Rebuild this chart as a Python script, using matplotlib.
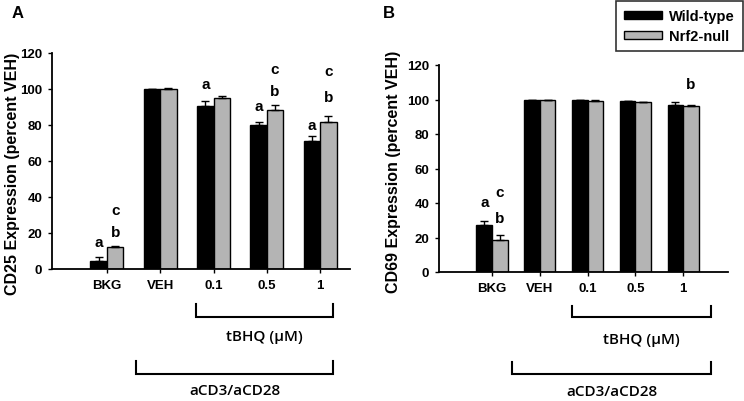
import matplotlib
matplotlib.use("Agg")
import matplotlib.pyplot as plt
from matplotlib.patches import Patch
import numpy as np

plt.rcParams['font.family'] = ['Liberation Sans', 'DejaVu Sans']

categories = ["BKG", "VEH", "0.1", "0.5", "1"]
series = ["Wild-type", "Nrf2-null"]

# Panel A: CD25
cd25_wt = [4.6, 100.0, 90.5, 80.0, 71.0]
cd25_wt_err = [1.8, 0.0, 3.0, 1.5, 3.0]
cd25_null = [12.0, 100.0, 95.0, 88.5, 81.5]
cd25_null_err = [0.6, 0.6, 1.3, 2.8, 3.6]

# Panel B: CD69
cd69_wt = [27.3, 100.0, 100.0, 99.3, 97.0]
cd69_wt_err = [2.0, 0.0, 0.0, 0.0, 1.5]
cd69_null = [18.8, 100.0, 99.3, 98.5, 96.0]
cd69_null_err = [2.5, 0.0, 0.5, 0.0, 0.7]

# significance letters: (category index, series index, letter, y value)
cd25_letters = [(0, 0, "a", 14.8), (0, 1, "b", 20.4), (0, 1, "c", 33.0),
                (2, 0, "a", 102.8),
                (3, 0, "a", 90.7), (3, 1, "b", 99.0), (3, 1, "c", 111.0),
                (4, 0, "a", 80.0), (4, 1, "b", 95.4), (4, 1, "c", 110.0)]
cd69_letters = [(0, 0, "a", 40.6), (0, 1, "b", 31.2), (0, 1, "c", 46.4),
                (4, 1, "b", 109.0)]

colors = ["#000000", "#b4b4b4"]

fig = plt.figure(figsize=(7.44, 4.02), dpi=100)
W, H = 744, 402


def make_axes(l, r, b, t):
    return fig.add_axes([l / W, 1 - b / H, (r - l) / W, (b - t) / H])


axA = make_axes(52, 350, 270, 54)
axB = make_axes(439, 728, 273, 66)


def draw(ax, wt, wterr, nl, nlerr, letters, width, xlim, ylabel, labcoords, brackets):
    x = np.arange(len(categories))
    off = width / 2
    for vals, errs, c, sgn in [(wt, wterr, colors[0], -1), (nl, nlerr, colors[1], 1)]:
        xs = x + sgn * off
        ax.bar(xs, vals, width=width, color=c, edgecolor="black", linewidth=1.0, zorder=2)
        ax.errorbar(xs, vals, yerr=[np.zeros(len(vals)), errs], fmt="none",
                    ecolor="black", elinewidth=1.0, capsize=3, capthick=1.0, zorder=3)
    for ci, si, letter, yv in letters:
        xs = ci + (-off if si == 0 else off)
        ax.text(xs, yv, letter, ha="center", va="center", fontsize=11, fontweight="bold")
    ax.set_xlim(*xlim)
    ax.set_ylim(0, 120)
    ax.set_yticks(np.arange(0, 121, 20))
    ax.set_xticks(x)
    ax.set_xticklabels(categories)
    for s in ["top", "right"]:
        ax.spines[s].set_visible(False)
    for s in ["left", "bottom"]:
        ax.spines[s].set_linewidth(1.3)
    ax.tick_params(axis="both", direction="out", length=3, width=1.0, labelsize=9.5, pad=4)
    for lab in ax.get_xticklabels() + ax.get_yticklabels():
        lab.set_fontweight("bold")
    ax.set_ylabel(ylabel, fontsize=11.5)
    ax.yaxis.label.set_fontweight("bold")
    ax.yaxis.set_label_coords(*labcoords)
    ax.yaxis.label.set_va("center")
    # brackets below axis (data coords, unclipped)
    for x0, x1, ytop, ybot, label, ytext in brackets:
        ax.plot([x0, x0, x1, x1], [ytop, ybot, ybot, ytop], color="black", lw=1.5,
                clip_on=False, solid_joinstyle="miter")
        ax.text((x0 + x1) / 2, ytext, label, ha="center", va="center",
                fontsize=11, family=["Open Sans", "DejaVu Sans"], fontweight="semibold")


draw(axA, cd25_wt, cd25_wt_err, cd25_null, cd25_null_err, cd25_letters, 0.31,
     (-1.03, 4.56), "CD25 Expression (percent VEH)", (-0.131, 0.444),
     [(1.67, 4.24, -19.4, -26.7, "tBHQ (µM)", -37.5),
      (0.545, 4.24, -51.0, -58.3, "aCD3/aCD28", -67.0)])
draw(axB, cd69_wt, cd69_wt_err, cd69_null, cd69_null_err, cd69_letters, 0.325,
     (-1.11, 4.94), "CD69 Expression (percent VEH)", (-0.159, 0.488),
     [(1.675, 4.59, -19.7, -26.1, "tBHQ (µM)", -39.0),
      (0.42, 4.59, -52.2, -59.1, "aCD3/aCD28", -69.0)])

fig.text(12 / W, 1 - 13 / H, "A", fontsize=12, fontweight="bold", ha="left", va="center")
fig.text(383 / W, 1 - 13 / H, "B", fontsize=12, fontweight="bold", ha="left", va="center")

handles = [Patch(facecolor=colors[0], edgecolor="black"),
           Patch(facecolor=colors[1], edgecolor="black")]
leg = fig.legend(handles, series, loc="upper right", bbox_to_anchor=(743 / W, 1 - 2 / H),
                 frameon=True, fancybox=False, edgecolor="black", handlelength=2.6,
                 handleheight=0.45, prop={"weight": "bold", "size": 10.5},
                 borderpad=0.55, labelspacing=0.4, handletextpad=0.5, borderaxespad=0)
leg.get_frame().set_linewidth(1.2)

fig.savefig("out.png", dpi=100)
